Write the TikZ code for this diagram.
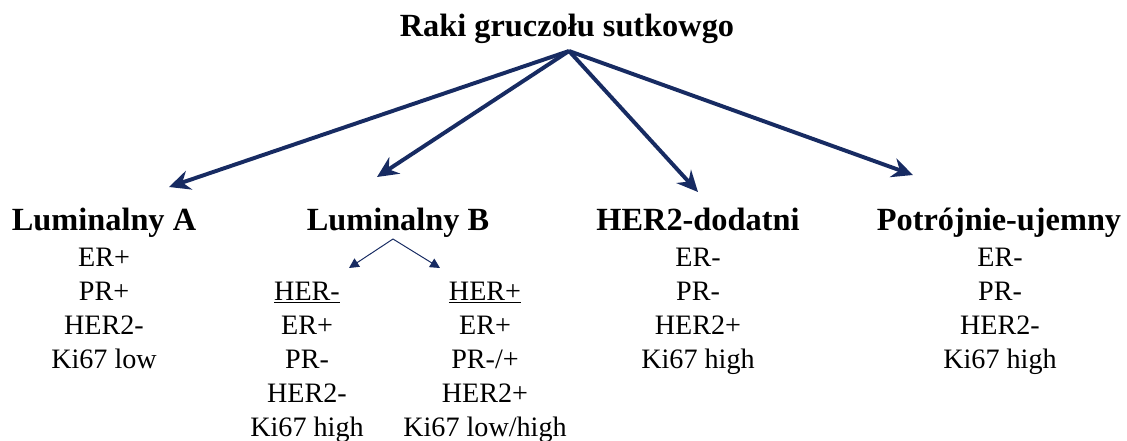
\documentclass[tikz,border=0pt]{standalone}
\usepackage{fontspec}
\setmainfont{Liberation Serif}
\usetikzlibrary{arrows.meta}
\definecolor{navy}{HTML}{172B62}
\begin{document}
\begin{tikzpicture}[x=0.025cm,y=-0.025cm,
  head/.style={font=\fontsize{23}{27}\selectfont\bfseries, anchor=base, inner sep=0pt},
  item/.style={font=\fontsize{20}{24}\selectfont, anchor=base, inner sep=0pt},
  bigarrow/.style={draw=navy, line width=2.8pt, -{Stealth[length=15pt,width=14pt,inset=5pt]}},
  smallarrow/.style={draw=navy, line width=0.7pt, -{Triangle[length=7pt,width=7pt]}}]
\useasboundingbox (0,0) rectangle (1127,441);
% title
\node[head] (title) at (567,36) {Raki gruczołu sutkowgo};
\coordinate (apex) at (569,51);
% headers
\node[head] (hA) at (104,230) {Luminalny A};
\node[head] (hB) at (398,230) {Luminalny B};
\node[head] (hH) at (698,230) {HER2-dodatni};
\node[head] (hT) at (999,230) {Potrójnie-ujemny};
% arrow tips
\coordinate (tA) at (169,187);
\coordinate (tB) at (377,177);
\coordinate (tH) at (698,192);
\coordinate (tT) at (913,175);
\draw[bigarrow] (apex) -- (tA);
\draw[bigarrow] (apex) -- (tB);
\draw[bigarrow] (apex) -- (tH);
\draw[bigarrow] (apex) -- (tT);
% Luminalny A
\node[item] (a1) at (104,266) {ER+};
\node[item] (a2) at (104,300) {PR+};
\node[item] (a3) at (104,334) {HER2-};
\node[item] (a4) at (104,368) {Ki67 low};
% HER2-dodatni
\node[item] (h1) at (698,266) {ER-};
\node[item] (h2) at (698,300) {PR-};
\node[item] (h3) at (698,334) {HER2+};
\node[item] (h4) at (698,368) {Ki67 high};
% Potrojnie-ujemny
\node[item] (t1) at (1000,266) {ER-};
\node[item] (t2) at (1000,300) {PR-};
\node[item] (t3) at (1000,334) {HER2-};
\node[item] (t4) at (1000,368) {Ki67 high};
% Luminalny B sub-branches
\coordinate (bApex) at (393,239);
\coordinate (bL) at (349,268);
\coordinate (bR) at (440,268);
\draw[smallarrow] (bApex) -- (bL);
\draw[smallarrow] (bApex) -- (bR);
\node[item] (l0) at (307,300) {\underline{HER-}};
\node[item] (l1) at (307,334) {ER+};
\node[item] (l2) at (307,368) {PR-};
\node[item] (l3) at (307,402) {HER2-};
\node[item] (l4) at (307,436) {Ki67 high};
\node[item] (r0) at (485,300) {\underline{HER+}};
\node[item] (r1) at (485,334) {ER+};
\node[item] (r2) at (485,368) {PR-/+};
\node[item] (r3) at (485,402) {HER2+};
\node[item] (r4) at (485,436) {Ki67 low/high};
\end{tikzpicture}
\end{document}
